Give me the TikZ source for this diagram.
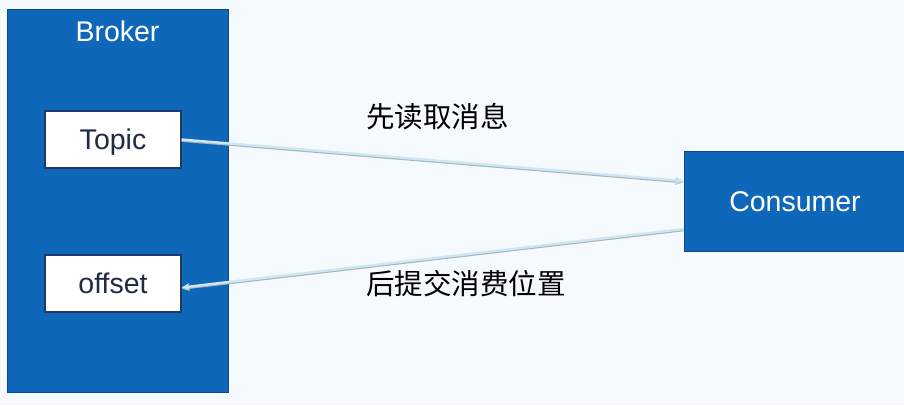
\documentclass[tikz,border=0pt]{standalone}
\usepackage{fontspec}
\setmainfont{Liberation Sans}
\newfontfamily\cjk{Noto Sans CJK SC}
\usetikzlibrary{arrows.meta}
\definecolor{bgc}{HTML}{F4FAFE}
\definecolor{bluefill}{HTML}{0F67B9}
\definecolor{blueedge}{HTML}{0B4A8A}
\definecolor{boxedge}{HTML}{1F3864}
\definecolor{txtdark}{HTML}{1F2A44}
\definecolor{arrowc}{HTML}{CDE7F3}
\definecolor{shadowc}{HTML}{A8B4BC}
\tikzset{
  bluebox/.style={draw=blueedge, line width=1pt, fill=bluefill, text=white, font=\fontsize{28.5}{33}\selectfont, inner sep=0pt, text height=20.5pt, text depth=0pt},
  whitebox/.style={draw=boxedge, line width=1.2pt, fill=white, text=txtdark, font=\fontsize{28.5}{33}\selectfont, minimum width=136pt, minimum height=57pt, inner sep=0pt, text height=20.5pt, text depth=0pt},
  lbl/.style={font=\cjk\fontsize{28.5}{33}\selectfont, text=black, inner sep=0pt, anchor=west},
  flowshadow/.style={draw=shadowc, line width=2.6pt, -{Stealth[length=8pt,width=7pt]}},
  flow/.style={draw=arrowc, line width=2.4pt, -{Stealth[length=8pt,width=7pt]}}
}
\begin{document}
\begin{tikzpicture}[x=1pt,y=-1pt]
\fill[bgc] (0,0) rectangle (904,405);
\useasboundingbox (0,0) rectangle (904,405);
\node[bluebox, minimum width=221pt, minimum height=383pt] (broker) at (117.5,200.5) {};
\node[text=white, font=\fontsize{28.5}{33}\selectfont, inner sep=0pt, text height=20.5pt, text depth=0pt] (brokerlbl) at (117.5,31) {Broker};
\node[whitebox] (topic) at (113,139.5) {Topic};
\node[whitebox] (offset) at (113,283.5) {offset};
\node[bluebox, minimum width=222pt, minimum height=100pt] (consumer) at (795,201) {Consumer};
\node[lbl] (l1) at (366,117) {先读取消息};
\node[lbl] (l2) at (366,284) {后提交消费位置};
\draw[flowshadow] ([yshift=-1pt]topic.east) -- ([yshift=19pt]consumer.west);
\draw[flow] (topic.east) -- ([yshift=20pt]consumer.west);
\draw[flowshadow] ([yshift=-29pt]consumer.west) -- ([yshift=-5pt]offset.east);
\draw[flow] ([yshift=-28pt]consumer.west) -- ([yshift=-4pt]offset.east);
\end{tikzpicture}
\end{document}
